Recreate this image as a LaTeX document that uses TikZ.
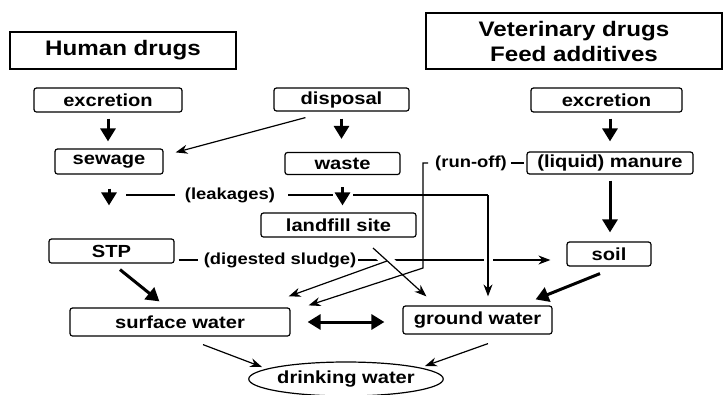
\documentclass[tikz,border=0pt]{standalone}
\usepackage{fontspec}
\newfontfamily\figfont{Liberation Sans}[FakeStretch=1.15]
\usetikzlibrary{arrows.meta,calc,shapes.geometric}

\begin{document}
\begin{tikzpicture}[x=1pt, y=-1pt,
  head/.style={draw, line width=1.1pt, inner sep=0pt, align=center,
               font=\figfont\bfseries\fontsize{21}{25}\selectfont},
  box/.style={draw, rounded corners=2.5pt, line width=1.2pt, inner sep=0pt,
              font=\figfont\bfseries\fontsize{17.5}{20}\selectfont},
  lbl/.style={inner sep=2pt, font=\figfont\bfseries\fontsize{16}{19}\selectfont},
  ln/.style={line width=1.2pt},
  arr/.style={-{Stealth[length=12pt,width=9pt]}, line width=1.2pt},
  fat/.style={-{Triangle[length=13pt,width=15pt]}, line width=3pt},
  halo/.style={preaction={draw=white, line width=#1, -}}
]
  \useasboundingbox[fill=white] (0,0) rectangle (723,394);

  % Headings
  \node[head, minimum width=226pt, minimum height=37pt] at (123,50.5) (hum) {Human drugs};
  \node[head, minimum width=296pt, minimum height=56pt] at (574,41)   (vet) {Veterinary drugs\\Feed additives};

  % Sources
  \node[box, minimum width=148pt, minimum height=24pt] at (108,100)   (exc1)  {excretion};
  \node[box, minimum width=135pt, minimum height=23pt] at (341.5,99.5) (disp) {disposal};
  \node[box, minimum width=151pt, minimum height=24pt] at (606.5,100) (exc2)  {excretion};

  % Second row
  \node[box, minimum width=108pt, minimum height=25pt] at (109,161.5)   (sew)   {sewage};
  \node[box, minimum width=115pt, minimum height=22pt] at (342.5,163.5) (waste) {waste};
  \node[box, minimum width=166pt, minimum height=22pt] at (610,163)     (man)   {(liquid) manure};
  \node[lbl] at (471,163) (runoff) {(run-off)};

  % Third row
  \node[lbl] at (230,195) (leak) {(leakages)};
  \node[box, minimum width=155pt, minimum height=24pt] at (338.5,225) (land) {landfill site};
  \node[box, minimum width=125pt, minimum height=24pt] at (111.5,251) (stp)  {STP};
  \node[lbl] at (280,260) (sludge) {(digested sludge)};
  \node[box, minimum width=84pt, minimum height=24pt]  at (609,254)   (soil) {soil};

  % Waters
  \node[box, minimum width=220pt, minimum height=28pt] at (180,322)   (surf) {surface water};
  \node[box, minimum width=149pt, minimum height=28pt] at (477.5,320) (gw)   {ground water};
  \node[box, ellipse, rounded corners=0pt, minimum width=188pt, minimum height=34pt]
       at (346,379) (drink) {drinking water};

  % Free ends and bends
  \coordinate (leakL)   at (126,195);
  \coordinate (leakR)   at (488,195);
  \coordinate (lfout)   at (373,248);
  \coordinate (lfsplit) at (387,261);
  \coordinate (rocorner) at (423,268);

  % Short heavy arrows
  \draw[fat, shorten <=6pt, shorten >=7pt]   (exc1.south) -- (exc1.south |- sew.north);
  \draw[fat, shorten <=7pt, shorten >=13pt]  (disp.south) -- (disp.south |- waste.north);
  \draw[fat, shorten <=6pt, shorten >=10pt]  (man.north |- exc2.south) -- (man.north);
  \draw[fat, shorten <=6pt, shorten >=9pt]   (man.south) -- (man.south |- soil.north);
  \draw[fat, shorten <=14pt, shorten >=33pt] (sew.south) -- (sew.south |- stp.north);

  % Leakages
  \draw[ln, shorten >=8pt] (leakL) -- (leak.west);
  \draw[ln, shorten <=11pt] (leak.east) -- (leakR);
  \draw[fat, halo=20pt, shorten <=12pt, shorten >=7pt] (waste.south) -- (waste.south |- land.north);

  % Digested sludge
  \draw[ln, shorten <=4pt, shorten >=4pt] (stp.east |- sludge.west) -- (sludge.west);
  \draw[arr, shorten >=16pt] (sludge.east) -- (sludge.east -| soil.west);
  \draw[arr, shorten >=9pt, preaction={draw=white, line width=9pt, -, shorten <=8pt}]
       (leakR) -- (leakR |- gw.north);

  % Landfill site
  \draw[arr, halo=12pt] (lfout) -- ($(gw.north west)+(24,-9)$);
  \draw[arr] (lfsplit) -- ($(surf.north east)+(-2,-11)$);

  % Run-off
  \draw[arr, shorten <=5pt] (runoff.west) -| (rocorner) -- ($(surf.north east)+(18,-2)$);
  \draw[ln, shorten <=2pt, shorten >=2pt] (runoff.east) -- (runoff.east -| man.west);

  % Into the waters
  \draw[arr] ($(disp.south west)+(32,6)$) -- ($(sew.north east)+(12,4)$);
  \draw[fat] ($(stp.south)+(8.5,6)$) -- ($(surf.north west)+(90,-6)$);
  \draw[fat] ($(soil.south)+(-9,7)$) -- ($(gw.north east)+(-17,-6)$);
  \draw[fat, {Triangle[length=13pt,width=15pt]}-{Triangle[length=13pt,width=15pt]},
        shorten <=17pt, shorten >=18pt] (surf.east) -- (surf.east -| gw.west);

  % Drinking water
  \draw[arr] ($(surf.south)+(23,8)$) -- ($(drink.center)+(-84,-12)$);
  \draw[arr] ($(gw.south)+(10.5,9)$) -- ($(drink.center)+(79,-13)$);

\end{tikzpicture}
\end{document}
